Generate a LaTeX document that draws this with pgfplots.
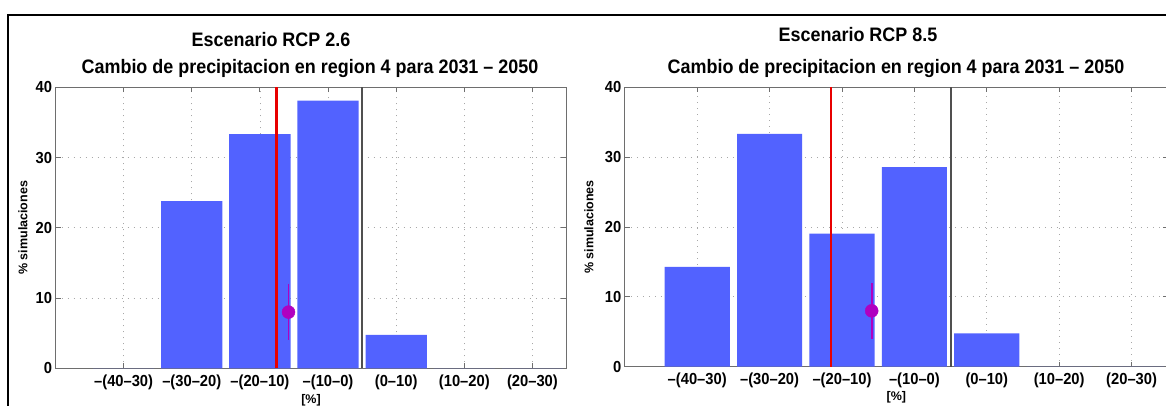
\documentclass[border=0pt]{standalone}
\usepackage{pgfplots}
\pgfplotsset{compat=1.18}
\usepackage{fontspec}
\setmainfont{Liberation Sans}
\newfontfamily\titlefont{Liberation Sans}[FakeStretch=0.92]
\definecolor{barblue}{RGB}{82,98,255}
\definecolor{mred}{RGB}{232,0,0}
\definecolor{mmag}{RGB}{176,0,192}
\definecolor{axgray}{RGB}{110,110,110}
\definecolor{zgray}{RGB}{80,80,80}
\pgfplotsset{hist/.style={
  scale only axis, anchor=south west,
  xmin=0, xmax=7.5, ymin=0, ymax=40,
  xtick={1,2,3,4,5,6,7},
  xticklabels={–(40–30),–(30–20),–(20–10),–(10–0),(0–10),(10–20),(20–30)},
  ytick={0,10,20,30,40},
  grid=major, grid style={axgray!60, line width=0.7pt, dash pattern=on 1pt off 5pt},
  axis line style={axgray, line width=1pt},
  tick align=inside, major tick length=5pt, tick style={axgray, line width=0.8pt},
  ticklabel style={font=\titlefont\bfseries\fontsize{16}{16}\selectfont},
  xticklabel style={yshift=-3pt},
  /pgf/number format/assume math mode=true,
  ylabel={\% simulaciones}, xlabel={[\%]},
  label style={font=\bfseries\fontsize{12.5}{12.5}\selectfont},
}}
\begin{document}
\begin{tikzpicture}
% left panel: RCP 2.6
\begin{axis}[hist, at={(55.5pt,37.7pt)}, width=511pt, height=281pt,
  y label style={at={(axis description cs:-0.064,0.5)}, anchor=center},
  x label style={at={(axis description cs:0.5,-0.115)}, anchor=center}]
\addplot[ybar, bar width=0.9, fill=barblue, draw=none] coordinates {
 (1,0) (2,23.81) (3,33.33) (4,38.10) (5,4.76) (6,0) (7,0)};
\addplot[mred, line width=2.5pt] coordinates {(3.24,0) (3.24,40)};
\addplot[zgray, line width=2.2pt] coordinates {(4.5,0) (4.5,40)};
\addplot[mmag, only marks, mark=*, mark size=6.5pt,
  error bars/.cd, y dir=both, y explicit, error mark=none,
  error bar style={line width=1.8pt, mmag}] coordinates {(3.42,8) +- (0,4)};
\end{axis}
% right panel: RCP 8.5
\begin{axis}[hist, at={(624.8pt,39.3pt)}, width=543pt, height=279.4pt,
  y label style={at={(axis description cs:-0.066,0.5)}, anchor=center},
  x label style={at={(axis description cs:0.5,-0.11)}, anchor=center}]
\addplot[ybar, bar width=0.9, fill=barblue, draw=none] coordinates {
 (1,14.29) (2,33.33) (3,19.05) (4,28.57) (5,4.76) (6,0) (7,0)};
\addplot[mred, line width=2.5pt] coordinates {(2.85,0) (2.85,40)};
\addplot[zgray, line width=2.2pt] coordinates {(4.5,0) (4.5,40)};
\addplot[mmag, only marks, mark=*, mark size=6.5pt,
  error bars/.cd, y dir=both, y explicit, error mark=none,
  error bar style={line width=1.8pt, mmag}] coordinates {(3.41,8) +- (0,4)};
\end{axis}
% titles
\tikzset{ttl/.style={anchor=base, font=\titlefont\bfseries\fontsize{19.5}{19.5}\selectfont}}
\node[ttl] at (271pt,359.3pt) {Escenario RCP 2.6};
\node[ttl] at (310pt,332pt) {Cambio de precipitacion en region 4 para 2031 – 2050};
\node[ttl] at (858pt,364.3pt) {Escenario RCP 8.5};
\node[ttl] at (896pt,332pt) {Cambio de precipitacion en region 4 para 2031 – 2050};
% frame
\draw[black, line width=2.6pt] (8pt,-5pt) -- (8pt,391pt) -- (1175pt,391pt);
\pgfresetboundingbox
\path[use as bounding box] (0pt,0pt) rectangle (1166pt,406pt);
\end{tikzpicture}
\end{document}
